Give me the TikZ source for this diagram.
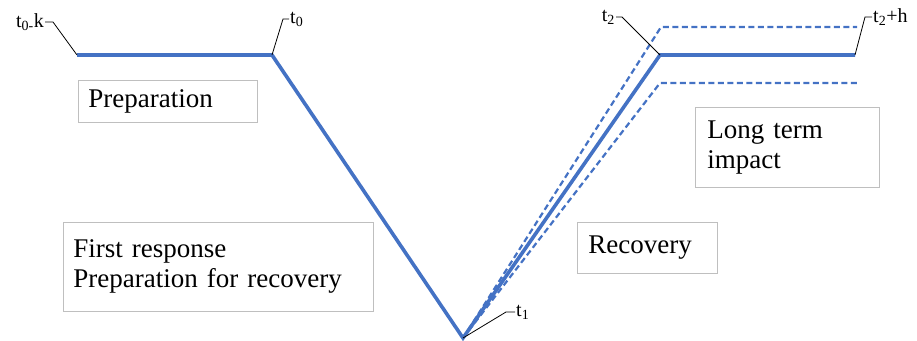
\documentclass[tikz,border=0pt]{standalone}
\usepackage{fontspec}
\setmainfont{Liberation Serif}
\newfontfamily\boxfont{Liberation Serif}
\definecolor{curve}{HTML}{4472C4}
\definecolor{frame}{HTML}{BFBFBF}
\usetikzlibrary{positioning}

\begin{document}
\begin{tikzpicture}[x=1pt, y=-1pt,
  phase/.style={draw=frame, line width=0.9pt, fill=white, anchor=north west,
                align=left, inner xsep=10pt, inner ysep=0pt,
                font=\boxfont\fontsize{27}{30}\selectfont},
  tlbl/.style={inner sep=1pt, font=\boxfont\fontsize{20}{22}\selectfont},
  leader/.style={draw=black, line width=0.8pt},
  vcurve/.style={draw=curve, line width=3.6pt, line join=miter},
  band/.style={draw=curve, line width=2.2pt, dash pattern=on 6pt off 3.5pt},
]
\useasboundingbox (0,0) rectangle (917,340);

% points of the curve
\coordinate (pk) at (77,55);
\coordinate (p0) at (272,55);
\coordinate (p1) at (463,338);
\coordinate (p2) at (660,55);
\coordinate (ph) at (855,55);
\coordinate (up) at (661,27);
\coordinate (upe) at (857,27);
\coordinate (lo) at (660,83);
\coordinate (loe) at (857,83);

% phases
\node[phase, text width=159pt, minimum height=42pt] (prep) at (78,80) {Preparation};
\node[phase, text width=290pt, minimum height=89pt] (resp) at (63,222)
  {First response\\Preparation for recovery};
\node[phase, text width=118pt, minimum height=51pt, inner xsep=11pt] (recov) at (577,222) {Recovery};
\node[phase, text width=160pt, minimum height=80pt, inner xsep=12pt] (impact) at (695,107)
  {Long term\\impact};

% curve and band
\draw[band] (p1) -- (up) -- (upe);
\draw[band] (p1) -- (lo) -- (loe);
\draw[vcurve] (pk) -- (p0) -- (p1) -- (p2) -- (ph);

% time labels
\node[tlbl, anchor=east] (lk) at (45,22) {t\textsubscript{0-}k};
\node[tlbl, anchor=west] (l0) at (289,19) {t\textsubscript{0}};
\node[tlbl, anchor=west] (l1) at (515,312) {t\textsubscript{1}};
\node[tlbl, anchor=east] (l2) at (616,17) {t\textsubscript{2}};
\node[tlbl, anchor=west] (lh) at (872,17) {t\textsubscript{2}+h};

\draw[leader] (lk.east) -- ++(8,0) -- (pk);
\draw[leader] (p0) -- ++(11,-36) -- (l0.west);
\draw[leader] (p1) -- ++(43,-26) -- (l1.west);
\draw[leader] (l2.east) -- ++(6,0) -- (p2);
\draw[leader] (ph) -- ++(10,-38) -- (lh.west);
\end{tikzpicture}
\end{document}
